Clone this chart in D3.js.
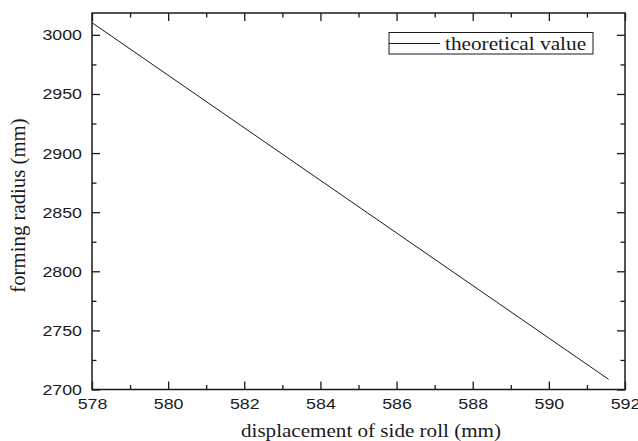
<!DOCTYPE html>
<html>
<head>
<meta charset="utf-8">
<script src="https://cdn.jsdelivr.net/npm/d3@7"></script>
<style>
  body { margin: 0; background: #fff; }
  svg { display: block; }
</style>
</head>
<body>
<svg id="chart" width="638" height="441"></svg>
<script>
// values (straight line)
const displacement = [578, 591.57];
const radius = [3010.3, 2708.6];
const xTicks = [578, 580, 582, 584, 586, 588, 590, 592];
const yTicks = [2700, 2750, 2800, 2850, 2900, 2950, 3000];
const seriesName = "theoretical value";

const data = displacement.map((d, i) => ({ x: d, y: radius[i] }));

const width = 638;
const height = 441;
const margin = { top: 13, right: 13, bottom: 51.5, left: 92 };

const svg = d3.select("#chart");

const x = d3.scaleLinear().domain([578, 592]).range([margin.left, width - margin.right]);
const y = d3.scaleLinear().domain([2700, 3018.5]).range([height - margin.bottom, margin.top]);

const minorX = d3.range(579, 592, 2);
const minorY = d3.range(2725, 3000, 50);

const sans = "Liberation Sans, Arial, sans-serif";
const serif = "Liberation Serif, Times New Roman, serif";
const ink = "#1a1a1a";
const stretch = 1.15; // text in the picture is a bit wider than tall

const styleAxis = (g) => {
  g.select(".domain").remove();
  g.selectAll(".tick line").attr("stroke", ink).attr("stroke-width", 1.3);
  g.selectAll(".tick text")
    .attr("font-family", sans)
    .attr("font-size", 15.5)
    .attr("fill", ink)
    .attr("transform", `scale(${stretch},1)`);
};

const addAxis = (axis, tx, ty, values, size, padding, labels) =>
  svg.append("g")
    .attr("transform", `translate(${tx},${ty})`)
    .call(axis.tickValues(values).tickSize(-size).tickPadding(padding)
      .tickFormat(labels ? d3.format("d") : ""))
    .call(styleAxis);

const x0 = x.range()[0], x1 = x.range()[1];
const y0 = y.range()[0], y1 = y.range()[1];

// bottom / top
addAxis(d3.axisBottom(x), 0, y0, xTicks, 8, 9, true);
addAxis(d3.axisBottom(x), 0, y0, minorX, 4.5, 0, false);
addAxis(d3.axisTop(x), 0, y1, xTicks, 8, 0, false);
addAxis(d3.axisTop(x), 0, y1, minorX, 4.5, 0, false);

// left / right
addAxis(d3.axisLeft(y), x0, 0, yTicks, 8, 8.7, true);
addAxis(d3.axisLeft(y), x0, 0, minorY, 4.5, 0, false);
addAxis(d3.axisRight(y), x1, 0, yTicks, 8, 0, false);
addAxis(d3.axisRight(y), x1, 0, minorY, 4.5, 0, false);

// frame
svg.append("rect")
  .attr("x", x0)
  .attr("y", y1)
  .attr("width", x1 - x0)
  .attr("height", y0 - y1)
  .attr("fill", "none")
  .attr("stroke", ink)
  .attr("stroke-width", 1.5);

// series
const line = d3.line().x((d) => x(d.x)).y((d) => y(d.y));
svg.append("path")
  .datum(data)
  .attr("fill", "none")
  .attr("stroke", ink)
  .attr("stroke-width", 1)
  .attr("d", line);

// legend
const legend = svg.append("g").attr("transform", "translate(389,32.5)");
legend.append("rect")
  .attr("width", 204)
  .attr("height", 21.5)
  .attr("fill", "#fff")
  .attr("stroke", ink)
  .attr("stroke-width", 1);
legend.append("line")
  .attr("x1", 0).attr("x2", 51)
  .attr("y1", 11).attr("y2", 11)
  .attr("stroke", ink).attr("stroke-width", 1);
legend.append("text")
  .attr("transform", `translate(56,17) scale(${stretch},1)`)
  .attr("font-family", serif)
  .attr("font-size", 18.5)
  .attr("fill", ink)
  .text(seriesName);

// axis titles
svg.append("text")
  .attr("transform", `translate(371,436.5) scale(1.16,1)`)
  .attr("text-anchor", "middle")
  .attr("font-family", serif)
  .attr("font-size", 18.2)
  .attr("fill", ink)
  .text("displacement of side roll (mm)");

svg.append("text")
  .attr("transform", "translate(24.5,205.5) rotate(-90)")
  .attr("text-anchor", "middle")
  .attr("font-family", serif)
  .attr("font-size", 20.8)
  .attr("fill", ink)
  .text("forming radius (mm)");
</script>
</body>
</html>
